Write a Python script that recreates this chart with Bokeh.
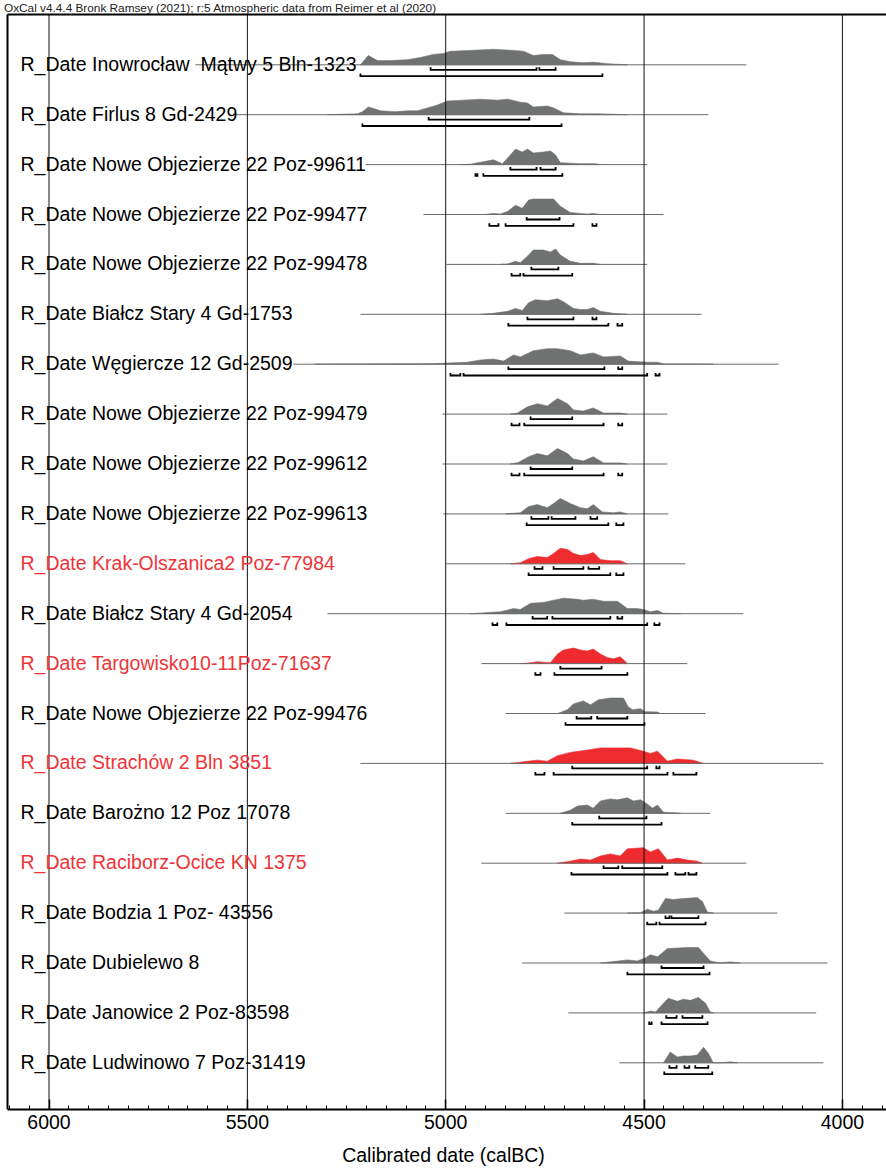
from bokeh.plotting import figure
from bokeh.models import Range1d, SingleIntervalTicker, ColumnDataSource
from bokeh.core.properties import value
from bokeh.embed import file_html
from bokeh.resources import INLINE

# ---- data: calibrated radiocarbon dates (years calBC) ----
labels = [
    "R_Date Inowrocław\u00a0 Mątwy 5 Bln-1323",
    "R_Date Firlus 8 Gd-2429",
    "R_Date Nowe Objezierze 22 Poz-99611",
    "R_Date Nowe Objezierze 22 Poz-99477",
    "R_Date Nowe Objezierze 22 Poz-99478",
    "R_Date Białcz Stary 4 Gd-1753",
    "R_Date Węgiercze 12 Gd-2509",
    "R_Date Nowe Objezierze 22 Poz-99479",
    "R_Date Nowe Objezierze 22 Poz-99612",
    "R_Date Nowe Objezierze 22 Poz-99613",
    "R_Date Krak-Olszanica2 Poz-77984",
    "R_Date Białcz Stary 4 Gd-2054",
    "R_Date Targowisko10-11Poz-71637",
    "R_Date Nowe Objezierze 22 Poz-99476",
    "R_Date Strachów 2 Bln 3851",
    "R_Date Barożno 12 Poz 17078",
    "R_Date Raciborz-Ocice KN 1375",
    "R_Date Bodzia 1 Poz- 43556",
    "R_Date Dubielewo 8",
    "R_Date Janowice 2 Poz-83598",
    "R_Date Ludwinowo 7 Poz-31419",
]
highlighted = [False] * 10 + [True, False, True, False, True, False, True] + [False] * 4

# full plotted span of each distribution
span_from = [5631, 5535, 5202, 5056, 4998, 5215, 5384, 5008, 5008, 5006, 4998,
             5298, 4910, 4849, 5215, 4849, 4910, 4701, 4807, 4691, 4562]
span_to = [4242, 4338, 4492, 4451, 4492, 4355, 4161, 4441, 4441, 4439, 4396,
           4250, 4391, 4345, 4048, 4333, 4242, 4164, 4038, 4066, 4048]

# probability distributions: years and relative probability (% of peak)
dist_years = [
    [5215, 5195, 5172, 5139, 5096, 5064, 5031, 5006, 4988, 4938, 4880, 4829, 4804, 4779, 4754, 4731, 4711, 4686, 4653, 4628, 4592, 4542],
    [5298, 5222, 5210, 5195, 5164, 5127, 5096, 5071, 5046, 5021, 4996, 4955, 4912, 4870, 4844, 4812, 4794, 4779, 4744, 4728, 4703, 4660, 4618, 4542],
    [4963, 4938, 4905, 4880, 4857, 4837, 4824, 4807, 4794, 4779, 4754, 4736, 4723, 4711, 4660, 4623, 4610],
    [4900, 4880, 4862, 4844, 4824, 4807, 4791, 4779, 4728, 4711, 4686, 4660, 4643, 4628, 4610],
    [4862, 4844, 4824, 4812, 4794, 4779, 4754, 4736, 4723, 4711, 4686, 4660, 4628, 4610],
    [4912, 4880, 4844, 4824, 4807, 4791, 4774, 4744, 4718, 4703, 4678, 4660, 4643, 4628, 4610, 4577, 4542],
    [5330, 5197, 5038, 4996, 4945, 4912, 4880, 4854, 4829, 4812, 4779, 4744, 4718, 4686, 4660, 4628, 4602, 4560, 4540, 4492, 4466, 4451, 4325],
    [4837, 4819, 4794, 4769, 4744, 4718, 4693, 4678, 4653, 4628, 4602, 4560, 4542],
    [4837, 4817, 4791, 4769, 4744, 4718, 4693, 4678, 4653, 4628, 4602, 4560, 4542],
    [4849, 4837, 4812, 4791, 4769, 4744, 4728, 4711, 4686, 4660, 4643, 4628, 4605, 4577, 4560, 4542],
    [4837, 4812, 4791, 4769, 4744, 4728, 4711, 4693, 4678, 4660, 4643, 4628, 4610, 4585, 4560, 4542],
    [4938, 4895, 4862, 4829, 4812, 4786, 4754, 4728, 4703, 4668, 4653, 4628, 4602, 4567, 4542, 4517, 4502, 4484, 4466, 4451, 4408],
    [4812, 4794, 4769, 4736, 4718, 4703, 4678, 4660, 4643, 4628, 4610, 4592, 4577, 4560, 4542],
    [4718, 4693, 4678, 4653, 4635, 4615, 4585, 4552, 4540, 4529, 4509, 4497, 4466, 4459],
    [4837, 4794, 4769, 4744, 4718, 4686, 4643, 4610, 4534, 4502, 4484, 4466, 4441, 4416, 4376, 4350],
    [4711, 4686, 4668, 4643, 4628, 4610, 4585, 4567, 4542, 4527, 4509, 4492, 4479, 4466, 4451, 4408],
    [4718, 4686, 4660, 4635, 4610, 4585, 4560, 4542, 4502, 4484, 4464, 4441, 4416, 4391, 4366, 4353],
    [4542, 4509, 4492, 4476, 4464, 4446, 4426, 4401, 4366, 4353, 4340, 4325],
    [4610, 4542, 4517, 4497, 4484, 4466, 4441, 4391, 4363, 4333, 4308, 4282, 4257],
    [4502, 4484, 4471, 4451, 4439, 4416, 4401, 4383, 4363, 4345, 4333, 4325],
    [4451, 4434, 4416, 4401, 4383, 4366, 4350, 4338, 4328, 4325, 4308, 4282, 4265],
]
dist_prob = [
    [0, 60, 27, 27, 33, 47, 67, 73, 87, 93, 100, 93, 87, 60, 67, 67, 33, 20, 13, 17, 7, 0],
    [0, 6, 19, 50, 25, 19, 25, 25, 44, 62, 88, 94, 100, 94, 100, 81, 75, 50, 56, 44, 12, 6, 6, 0],
    [0, 3, 19, 31, 6, 62, 100, 81, 100, 75, 81, 88, 62, 12, 6, 6, 0],
    [0, 7, 3, 20, 60, 40, 93, 100, 100, 53, 13, 7, 3, 7, 0],
    [0, 3, 20, 10, 53, 93, 93, 80, 100, 60, 20, 7, 7, 0],
    [0, 6, 19, 38, 25, 75, 94, 88, 100, 81, 38, 31, 31, 44, 19, 6, 0],
    [0, 2, 3, 7, 13, 27, 33, 20, 60, 47, 87, 100, 100, 87, 60, 73, 47, 53, 20, 13, 13, 2, 0],
    [0, 7, 47, 67, 53, 100, 67, 27, 20, 40, 7, 7, 0],
    [0, 10, 47, 67, 53, 100, 67, 33, 20, 47, 7, 7, 0],
    [0, 3, 7, 47, 60, 40, 67, 100, 67, 40, 33, 60, 13, 7, 13, 0],
    [0, 7, 33, 47, 40, 67, 100, 93, 67, 53, 60, 73, 27, 20, 20, 0],
    [0, 7, 13, 33, 27, 67, 73, 87, 100, 93, 87, 93, 80, 80, 33, 33, 27, 13, 20, 3, 0],
    [0, 3, 12, 6, 62, 88, 100, 88, 81, 94, 62, 38, 31, 44, 0],
    [0, 25, 62, 81, 56, 88, 100, 100, 44, 25, 31, 12, 10, 0],
    [0, 14, 21, 14, 50, 71, 86, 100, 100, 79, 64, 79, 14, 29, 21, 0],
    [0, 20, 47, 53, 33, 80, 93, 87, 100, 80, 87, 60, 33, 53, 7, 0],
    [0, 13, 27, 20, 47, 60, 47, 93, 100, 73, 93, 20, 33, 20, 13, 0],
    [0, 2, 25, 12, 19, 94, 88, 94, 100, 75, 6, 0],
    [0, 20, 13, 33, 53, 40, 93, 100, 100, 13, 0, 7, 0],
    [0, 12, 6, 62, 94, 75, 88, 81, 100, 62, 6, 0],
    [0, 69, 38, 44, 44, 50, 100, 62, 12, 0, 0, 6, 0],
]

# highest posterior density ranges (from, to)
hpd68 = [
    [(5038, 4771), (4764, 4723)],
    [(5043, 4789)],
    [(4837, 4771), (4761, 4723)],
    [(4796, 4713)],
    [(4784, 4716)],
    [(4794, 4678), (4630, 4620)],
    [(4842, 4600), (4565, 4555)],
    [(4786, 4681)],
    [(4786, 4681)],
    [(4784, 4741), (4733, 4673), (4635, 4618)],
    [(4776, 4756), (4728, 4653), (4640, 4613)],
    [(4781, 4744), (4731, 4585), (4567, 4555)],
    [(4711, 4607)],
    [(4670, 4633), (4618, 4542)],
    [(4681, 4492), (4469, 4461)],
    [(4613, 4494)],
    [(4602, 4565), (4555, 4454)],
    [(4446, 4436), (4431, 4363)],
    [(4456, 4350)],
    [(4444, 4418), (4403, 4353)],
    [(4436, 4418), (4398, 4386), (4371, 4338)],
]
hpd95 = [
    [(5215, 4605)],
    [(5210, 4708)],
    [(4925, 4920), (4905, 4706)],
    [(4890, 4867), (4849, 4678), (4630, 4620)],
    [(4834, 4812), (4804, 4681)],
    [(4842, 4590), (4567, 4555)],
    [(4988, 4963), (4955, 4492), (4471, 4461)],
    [(4834, 4814), (4802, 4602), (4565, 4555)],
    [(4834, 4814), (4802, 4602), (4565, 4555)],
    [(4796, 4590), (4570, 4552)],
    [(4791, 4585), (4570, 4552)],
    [(4882, 4870), (4847, 4492), (4474, 4461)],
    [(4774, 4761), (4726, 4542)],
    [(4698, 4499)],
    [(4774, 4751), (4728, 4441), (4426, 4368)],
    [(4681, 4456)],
    [(4683, 4441), (4421, 4396), (4388, 4368)],
    [(4492, 4469), (4461, 4345)],
    [(4542, 4335)],
    [(4487, 4481), (4456, 4340)],
    [(4449, 4328)],
]

grid_years = [6000, 5500, 5000, 4500, 4000]
header = "OxCal v4.4.4 Bronk Ramsey (2021); r:5 Atmospheric data from Reimer et al (2020)"
axis_title = "Calibrated date (calBC)"

# ---- layout geometry ----
W, H = 886, 1171
BOTTOM = 62                      # space under the frame for the axis
PX_YR = 0.3967                   # pixels per year
ROW_PX = 49.9                    # pixels per row
FIRST_ROW_PX = 64.3              # first baseline, from top of frame
x_start = 6000 + 48.5 / PX_YR
x_end = x_start - W / PX_YR
y_top = FIRST_ROW_PX / ROW_PX
y_bot = -((H - BOTTOM) - FIRST_ROW_PX) / ROW_PX
frame_top_y = (FIRST_ROW_PX - 14) / ROW_PX
frame_left_x = x_start - 7 / PX_YR

PEAK = 15.5 / ROW_PX             # height of a distribution peak
OFF68 = 5.0 / ROW_PX
OFF95 = 11.3 / ROW_PX
TICK = 2.6 / ROW_PX

GREY = "#707272"
RED = "#EE2B2E"
RED_TEXT = "#EE3438"
FONT = "Liberation Sans"

p = figure(width=W, height=H, output_backend="svg", toolbar_location=None,
           x_range=Range1d(x_start, x_end), y_range=Range1d(y_bot, y_top),
           y_axis_location=None, min_border_left=0, min_border_right=0,
           min_border_top=0, min_border_bottom=BOTTOM)
p.outline_line_color = None
p.xgrid.visible = False
p.ygrid.visible = False
p.background_fill_color = "white"
p.border_fill_color = "white"

n = len(labels)
rows = [-i for i in range(n)]

# distributions
pxs, pys, pcol = [], [], []
for i in range(n):
    pxs.append(list(dist_years[i]))
    pys.append([rows[i] + v / 100.0 * PEAK for v in dist_prob[i]])
    pcol.append(RED if highlighted[i] else GREY)
p.patches(xs="xs", ys="ys", fill_color="c", line_color="c", line_width=0.6,
          source=ColumnDataSource(dict(xs=pxs, ys=pys, c=pcol)))

# baseline of each distribution
p.segment(x0=span_from, x1=span_to, y0=rows, y1=rows, line_color="#6a6a6a", line_width=1)

# range brackets
bxs, bys = [], []
for i in range(n):
    for ranges, off in ((hpd68[i], OFF68), (hpd95[i], OFF95)):
        yb = rows[i] - off
        for a, b in ranges:
            bxs.append([a, a, b, b])
            bys.append([yb + TICK, yb, yb, yb + TICK])
p.multi_line(xs=bxs, ys=bys, line_color="black", line_width=1.8,
             line_join="miter", line_cap="butt")

# vertical grid lines and frame
p.segment(x0=grid_years, x1=grid_years, y0=[y_bot] * 5, y1=[frame_top_y] * 5,
          line_color="#111111", line_width=1)
p.segment(x0=[frame_left_x], x1=[frame_left_x], y0=[y_bot], y1=[frame_top_y],
          line_color="black", line_width=2)
p.segment(x0=[frame_left_x], x1=[x_end], y0=[frame_top_y], y1=[frame_top_y],
          line_color="black", line_width=2)

# row labels
label_x = x_start - 20 / PX_YR
p.text(x=[label_x] * n, y=[r + 1.0 / ROW_PX for r in rows], text=labels,
       text_color=[RED_TEXT if h else "black" for h in highlighted],
       text_font=value(FONT), text_font_size="19.5px",
       text_baseline="middle", text_align="left")

# header line
p.text(x=[x_start - 3.5 / PX_YR], y=[(FIRST_ROW_PX - 7.5) / ROW_PX], text=[header],
       text_color="#222222", text_font=value(FONT), text_font_size="11.8px",
       text_baseline="middle", text_align="left")

# x axis
ax = p.xaxis[0]
ax.ticker = SingleIntervalTicker(interval=500, num_minor_ticks=10)
ax.bounds = (frame_left_x, x_end)
ax.axis_line_width = 2
ax.axis_line_color = "black"
ax.major_tick_in = 10
ax.major_tick_out = 0
ax.minor_tick_in = 4
ax.minor_tick_out = 0
ax.major_tick_line_width = 1.5
ax.minor_tick_line_width = 1
ax.major_tick_line_color = "black"
ax.minor_tick_line_color = "black"
ax.major_label_text_font = FONT
ax.major_label_text_font_size = "19.5px"
ax.major_label_text_color = "black"
ax.major_label_standoff = 5
ax.axis_label = axis_title
ax.axis_label_text_font = FONT
ax.axis_label_text_font_size = "19.5px"
ax.axis_label_text_font_style = "normal"
ax.axis_label_text_color = "black"
ax.axis_label_standoff = 12

open("out.html", "w").write(file_html(p, INLINE))
